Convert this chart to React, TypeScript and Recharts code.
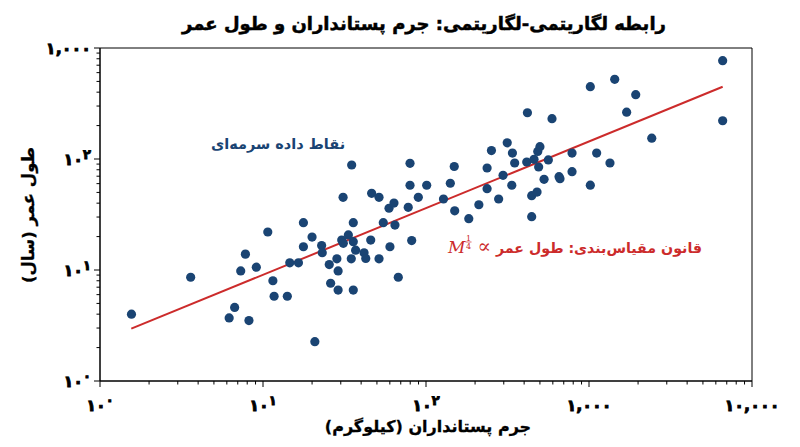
import React from 'react';
import { ScatterChart, Scatter, XAxis, YAxis, ReferenceArea } from 'recharts';

const massKg = [
  1.56, 3.6, 6.2, 6.7, 8.2, 7.3, 7.8, 9.1, 10.7, 11.5, 11.7, 14.1, 14.6, 16.5, 17.7, 17.7, 20.0, 20.8,
  22.9, 23.1, 25.5, 28.9, 26.0, 28.9, 35.8, 28.4, 34.8, 30.4, 31.1, 33.4, 35.8, 37.0, 35.8, 31.0, 35.0,
  41.7, 42.7, 45.8, 51.5, 46.4, 51.5, 54.7, 59.3, 63.6, 64.5, 60.1, 67.6, 77.8, 79.8, 79.8, 81.7, 89.7,
  101, 128, 141, 149, 150, 183, 211, 237, 237, 252, 279, 297, 315, 336, 339, 350, 415, 419, 445, 480,
  445, 460, 485, 500, 491, 530, 563, 593, 655, 664, 787, 787, 1019, 1019, 1114, 1345, 1438, 1702, 1935,
  2427, 6607, 6607,
];
const lifespanYears = [
  4.0, 8.6, 3.7, 4.6, 3.5, 9.8, 13.9, 10.6, 22.0, 8.0, 5.8, 5.8, 11.6, 11.6, 26.7, 16.2, 19.8, 2.26,
  16.6, 14.3, 11.2, 9.8, 7.6, 6.6, 6.6, 12.6, 12.6, 18.6, 17.4, 20.7, 18.0, 15.1, 26.7, 45.2, 88.3,
  14.3, 12.7, 18.6, 12.6, 49.1, 45.2, 26.7, 36.0, 40.1, 25.4, 16.2, 8.6, 36.7, 58.0, 91.5, 18.4, 45.2,
  58.0, 43.6, 60.5, 85.6, 34.1, 29.0, 38.7, 83.0, 54.0, 119, 43.6, 71.3, 140, 58.0, 113, 92.0, 94.0, 261,
  46.7, 50.4, 30.2, 99.4, 117, 129, 84.7, 65.6, 98.0, 231, 69.3, 66.5, 113, 76.9, 58.1, 448, 113, 92.0,
  522, 264, 380, 154, 769, 221,
];
const fitMass = [1.556, 6607];
const fitLifespan = [2.96, 448];

const xMajorTicks = [1, 10, 100, 1000, 10000];
const xTickLabels = ['۱۰^۰', '۱۰^۱', '۱۰^۲', '۱,۰۰۰', '۱۰,۰۰۰'];
const yMajorTicks = [1, 10, 100, 1000];
const yTickLabels = ['۱۰^۰', '۱۰^۱', '۱۰^۲', '۱,۰۰۰'];

const titleText = 'رابطه لگاریتمی-لگاریتمی: جرم پستانداران و طول عمر';
const xLabelText = 'جرم پستانداران (کیلوگرم)';
const yLabelText = 'طول عمر (سال)';
const pointsLabel = 'نقاط داده سرمه‌ای';
const lawLabel = 'قانون مقیاس‌بندی: طول عمر';

const points = massKg.map((m, i) => ({ x: m, y: lifespanYears[i] }));
const fitData = fitMass.map((m, i) => ({ x: m, y: fitLifespan[i] }));

function withMinors(majors: number[]): number[] {
  const out: number[] = [];
  for (let i = 0; i < majors.length; i++) {
    out.push(majors[i]);
    if (i < majors.length - 1) {
      for (let k = 2; k <= 9; k++) out.push(majors[i] * k);
    }
  }
  return out;
}
const xTicks = withMinors(xMajorTicks);
const yTicks = withMinors(yMajorTicks);

const FONT = '"DejaVu Sans", "Noto Sans", sans-serif';
const DOT = '#1a4473';
const RED = '#cc2b2b';

function tickLabel(label: string, x: number, y: number, anchor: 'middle' | 'end') {
  const [base, sup] = label.split('^');
  return (
    <text
      x={x}
      y={y}
      textAnchor={anchor}
      fontFamily={FONT}
      fontWeight={700}
      fontSize={16}
      fill="#000"
      stroke="#000"
      strokeWidth={0.9}
    >
      {base}
      {sup !== undefined && (
        <tspan dy={-6} fontSize={13}>
          {sup}
        </tspan>
      )}
    </text>
  );
}

const XTick = (props: any) => {
  const { x, y, payload } = props;
  const v = payload.value;
  const idx = xMajorTicks.findIndex((t) => Math.abs(t - v) < 1e-6 * t);
  const major = idx >= 0;
  return (
    <g>
      <line x1={x} x2={x} y1={y} y2={y + (major ? 6 : 3.5)} stroke="#000" strokeWidth={1} />
      {major && tickLabel(xTickLabels[idx], x, y + 30, 'middle')}
    </g>
  );
};

const YTick = (props: any) => {
  const { x, y, payload } = props;
  const v = payload.value;
  const idx = yMajorTicks.findIndex((t) => Math.abs(t - v) < 1e-6 * t);
  const major = idx >= 0;
  return (
    <g>
      <line x1={x} x2={x - (major ? 6 : 3.5)} y1={y} y2={y} stroke="#000" strokeWidth={1} />
      {major && tickLabel(yTickLabels[idx], x - 9, y + 6, 'end')}
    </g>
  );
};

export default function App() {
  return (
    <div style={{ position: 'relative', width: 800, height: 447, background: '#fff' }}>
      <style>{`body{margin:0;background:#fff}`}</style>
      <ScatterChart width={800} height={447} margin={{ top: 48, right: 48, bottom: 0, left: 0 }}>
        <XAxis
          dataKey="x"
          type="number"
          scale="log"
          domain={[1, 10000]}
          ticks={xTicks}
          interval={0}
          allowDataOverflow
          height={66}
          tickSize={0}
          tickMargin={0}
          tickLine={false}
          axisLine={{ stroke: '#000', strokeWidth: 1 }}
          tick={<XTick />}
        />
        <YAxis
          dataKey="y"
          type="number"
          scale="log"
          domain={[1, 1000]}
          ticks={yTicks}
          interval={0}
          allowDataOverflow
          width={100}
          tickSize={0}
          tickMargin={0}
          tickLine={false}
          axisLine={{ stroke: '#000', strokeWidth: 1 }}
          tick={<YTick />}
        />
        <ReferenceArea x1={1} x2={10000} y1={1} y2={1000} fill="none" stroke="#000" strokeWidth={1} ifOverflow="visible" />
        <Scatter
          data={fitData}
          line={{ stroke: RED, strokeWidth: 2 }}
          shape={() => <g />}
          isAnimationActive={false}
        />
        <Scatter
          data={points}
          shape={(p: any) => <circle cx={p.cx} cy={p.cy} r={4.6} fill={DOT} />}
          isAnimationActive={false}
        />
      </ScatterChart>
      <svg
        width={800}
        height={447}
        style={{ position: 'absolute', left: 0, top: 0, pointerEvents: 'none' }}
      >
        <text x={424} y={30} textAnchor="middle" direction="rtl" fontFamily={FONT} fontWeight={700} fontSize={18} fill="#000" stroke="#000" strokeWidth={0.5}>
          {titleText}
        </text>
        <text x={428} y={432} textAnchor="middle" direction="rtl" fontFamily={FONT} fontWeight={700} fontSize={16} fill="#000" stroke="#000" strokeWidth={0.3}>
          {xLabelText}
        </text>
        <text
          x={0}
          y={0}
          transform="translate(34,215) rotate(-90)"
          textAnchor="middle"
          direction="rtl"
          fontFamily={FONT}
          fontWeight={700}
          fontSize={16.5}
          fill="#000"
          stroke="#000"
          strokeWidth={0.3}
        >
          {yLabelText}
        </text>
        <text x={278} y={149} textAnchor="middle" direction="rtl" fontFamily={FONT} fontWeight={700} fontSize={14.5} fill={DOT}>
          {pointsLabel}
        </text>
        <text x={702} y={253} textAnchor="end" fontFamily={FONT} fontWeight={700} fontSize={14.2} fill={RED}>
          {lawLabel}
        </text>
        <text x={491} y={253} textAnchor="end" fontFamily='"DejaVu Serif", serif' fontSize={20} fill={RED}>
          ∝
        </text>
        <text x={448} y={253} fontFamily='"DejaVu Serif", "Liberation Serif", serif' fontStyle="italic" fontSize={17} fill={RED}>
          M
        </text>
        <text x={468.5} y={240.5} textAnchor="middle" fontFamily='"DejaVu Serif", serif' fontSize={8} fill={RED}>
          1
        </text>
        <line x1={465.5} x2={471.5} y1={242} y2={242} stroke={RED} strokeWidth={0.7} />
        <text x={468.5} y={248.5} textAnchor="middle" fontFamily='"DejaVu Serif", serif' fontSize={8} fill={RED}>
          4
        </text>
      </svg>
    </div>
  );
}
